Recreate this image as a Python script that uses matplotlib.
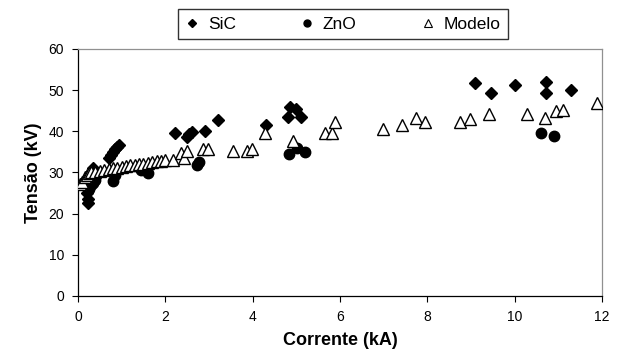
import matplotlib
matplotlib.use("Agg")
import matplotlib.pyplot as plt
from matplotlib.lines import Line2D

plt.rcParams['font.family'] = ['Liberation Sans', 'DejaVu Sans']

# Measured voltage vs. current for SiC and ZnO arresters, plus model curve
sic_i = [0.2, 0.22, 0.24, 0.25, 0.27, 0.3, 0.35, 0.7, 0.75, 0.8, 0.85, 0.9, 0.95,
         2.22, 2.49, 2.55, 2.60, 2.92, 3.20, 4.30, 4.82, 4.85, 4.99, 5.11,
         9.1, 9.46, 10.0, 10.71, 10.71, 11.28]
sic_v = [25.0, 23.5, 22.5, 26.5, 28.0, 29.5, 31.0, 33.4, 34.2, 35.0, 35.6, 36.2, 36.8,
         39.5, 38.7, 39.3, 39.9, 40.1, 42.7, 41.5, 43.6, 46.0, 45.4, 43.6,
         51.7, 49.2, 51.2, 52.1, 49.4, 50.0]

zno_i = [0.25, 0.3, 0.35, 0.4, 0.8, 0.85, 1.45, 1.6, 2.72, 2.76, 4.84, 5.01, 5.2, 10.6, 10.9]
zno_v = [26.0, 27.0, 27.5, 28.2, 28.0, 29.5, 30.5, 29.8, 31.8, 32.5, 34.5, 35.9, 35.0, 39.5, 38.9]

mod_i = [0.05, 0.1, 0.15, 0.2, 0.25, 0.3, 0.4, 0.5, 0.6, 0.7, 0.8, 0.9, 1.0, 1.1, 1.2,
         1.3, 1.4, 1.5, 1.6, 1.7, 1.8, 1.9, 2.0, 2.18, 2.37, 2.43, 2.5, 2.87, 2.98,
         3.56, 3.86, 3.98, 4.28, 4.93, 5.66, 5.81, 5.89, 6.98, 7.43, 7.73, 7.95,
         8.75, 8.98, 9.42, 10.29, 10.69, 10.95, 11.1, 11.89]
mod_v = [27.2, 27.8, 28.8, 29.5, 29.8, 30.0, 30.2, 30.4, 30.6, 30.8, 31.0, 31.2, 31.4,
         31.5, 31.7, 31.9, 32.0, 32.1, 32.3, 32.5, 32.7, 32.9, 33.0, 33.0, 34.7, 33.4,
         35.2, 35.6, 35.6, 35.1, 35.1, 35.6, 39.5, 37.7, 39.5, 39.7, 42.2, 40.5, 41.5,
         43.2, 42.2, 42.2, 42.9, 44.1, 44.1, 43.2, 45.0, 45.2, 46.8]

x_ticks = [0, 2, 4, 6, 8, 10, 12]
y_ticks = [0, 10, 20, 30, 40, 50, 60]

fig = plt.figure(figsize=(6.17, 3.55), dpi=100)
ax = fig.add_axes([0.1264, 0.1662, 0.8493, 0.6958])

ax.plot(sic_i, sic_v, linestyle='none', marker='D', ms=6.5, color='black', zorder=3)
ax.plot(zno_i, zno_v, linestyle='none', marker='o', ms=7.5, color='black', zorder=3)
ax.plot(mod_i, mod_v, linestyle='none', marker='^', ms=8, mfc='white', mec='black',
        mew=1.0, zorder=4)

ax.set_xlim(0, 12)
ax.set_ylim(0, 60)
ax.set_xticks(x_ticks)
ax.set_yticks(y_ticks)
ax.tick_params(direction='out', length=4, width=0.8, labelsize=10, pad=6)

for side in ('left', 'bottom'):
    ax.spines[side].set_color('black')
    ax.spines[side].set_linewidth(0.9)
for side in ('top', 'right'):
    ax.spines[side].set_color('#909090')
    ax.spines[side].set_linewidth(0.9)

ax.set_xlabel('Corrente (kA)', fontsize=13, fontweight='bold', labelpad=6)
ax.set_ylabel('Tensão (kV)', fontsize=13, fontweight='bold', labelpad=5)

handles = [
    Line2D([], [], linestyle='none', marker='D', ms=4.5, color='black'),
    Line2D([], [], linestyle='none', marker='o', ms=5, color='black'),
    Line2D([], [], linestyle='none', marker='^', ms=5.5, mfc='white', mec='black', mew=0.8),
]
leg = fig.legend(handles, ['SiC', 'ZnO', 'Modelo'], ncol=3, loc='center',
                 bbox_to_anchor=(343 / 617, 1 - 24 / 355), fontsize=12.5,
                 frameon=True, fancybox=False, edgecolor='black',
                 handlelength=0.8, handletextpad=0.5, columnspacing=3.7,
                 borderpad=0.45, borderaxespad=0)
leg.get_frame().set_linewidth(1.0)

fig.savefig('out.png', dpi=100)
